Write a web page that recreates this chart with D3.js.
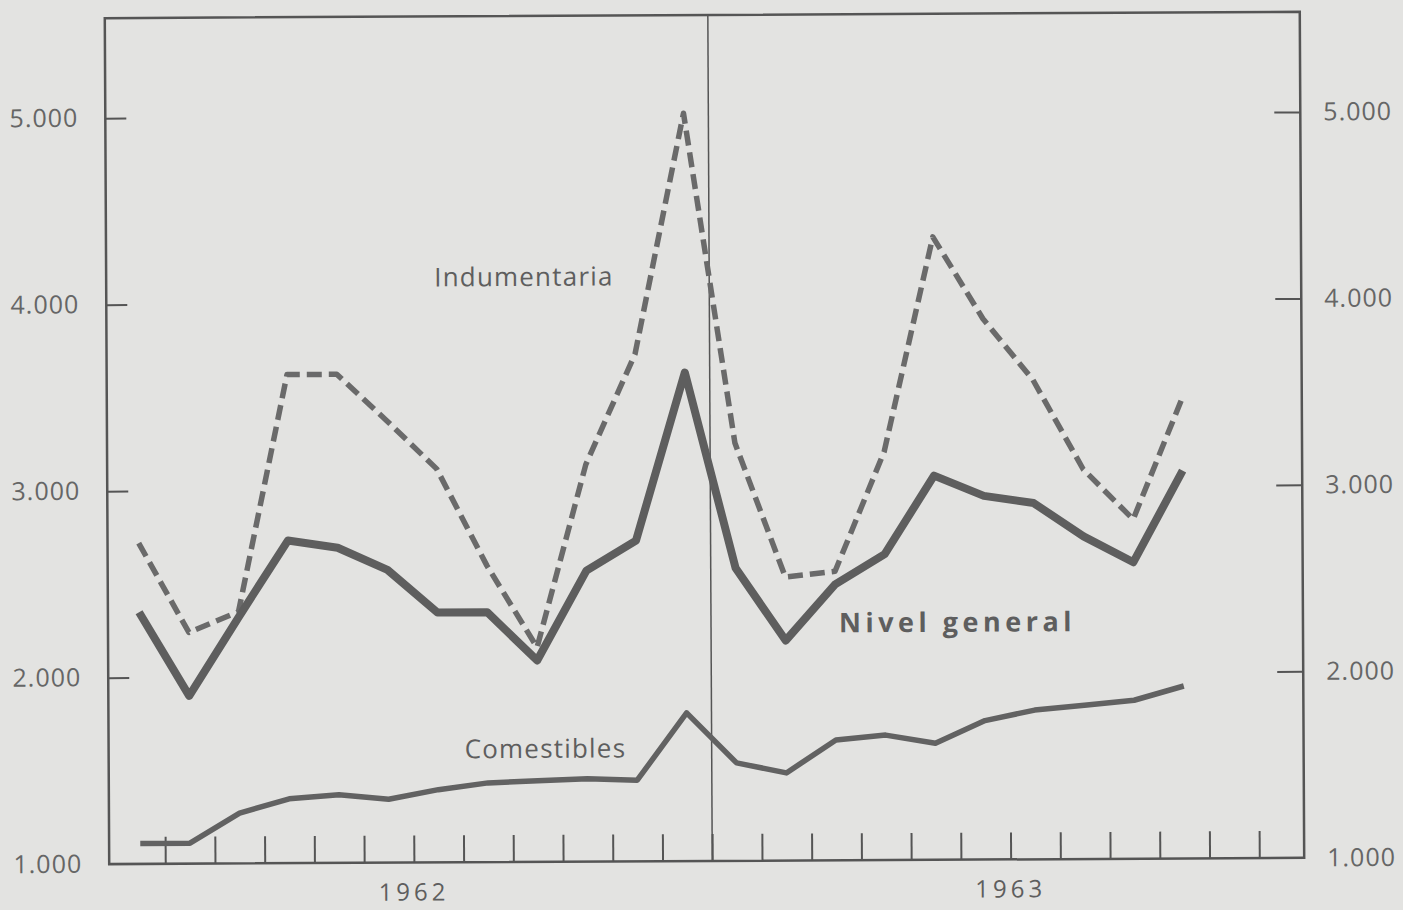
<!DOCTYPE html>
<html>
<head>
<meta charset="utf-8">
<script src="https://cdn.jsdelivr.net/npm/d3@7"></script>
<style>
  body { margin: 0; background: #e3e3e1; }
  svg { display: block; }
  text { font-family: "Open Sans", "DejaVu Sans", sans-serif; fill: #5e5e5e; }
</style>
</head>
<body>
<svg id="chart" width="1403" height="910"></svg>
<script>
// meses enero 1962 .. octubre 1963
var periodos = ["1962-01","1962-02","1962-03","1962-04","1962-05","1962-06","1962-07","1962-08","1962-09","1962-10","1962-11","1962-12",
                "1963-01","1963-02","1963-03","1963-04","1963-05","1963-06","1963-07","1963-08","1963-09","1963-10"];
var nivelGeneral = [2350,1900,2320,2730,2690,2570,2340,2340,2080,2560,2720,3620,2570,2180,2480,2640,3060,2950,2910,2730,2590,3080];
var indumentaria = [2720,2240,2350,3620,3620,3370,3110,2590,2150,3130,3720,5010,3240,2520,2550,3190,4340,3900,3570,3090,2820,3470];
var comestibles  = [1110,1110,1270,1345,1365,1340,1390,1425,1435,1445,1435,1795,1525,1470,1645,1670,1625,1745,1800,1825,1850,1925];
var yTicks = [1000,2000,3000,4000,5000];
var years = ["1962","1963"];

var frameL = 107, frameR = 1302, frameT = 15, frameB = 861;

var x = d3.scaleLinear().domain([0,24]).range([113.3, 1306.8]);
var y = d3.scaleLinear().domain([1000,5000]).range([frameB, 115]);

var fmt = d3.formatLocale({decimal: ",", thousands: ".", grouping: [3], currency: ["$",""]}).format(",");

var svg = d3.select("#chart");
// the scan is slightly tilted
var g = svg.append("g").attr("transform", "rotate(-0.3,705,440)");

// frame
g.append("rect")
  .attr("x", frameL).attr("y", frameT)
  .attr("width", frameR - frameL).attr("height", frameB - frameT)
  .style("fill", "none")
  .style("stroke", "#555")
  .style("stroke-width", 2.5);

// year divider
g.append("line")
  .attr("x1", x(12)).attr("x2", x(12))
  .attr("y1", frameT).attr("y2", frameB)
  .style("stroke", "#555")
  .style("stroke-width", 1.5);

// month ticks
var xAxis = d3.axisBottom(x).tickValues(d3.range(1,24)).tickSize(-27).tickFormat("");
var gx = g.append("g").attr("transform", "translate(0," + frameB + ")").call(xAxis);
gx.select(".domain").remove();
gx.selectAll(".tick line").style("stroke", "#555").style("stroke-width", 2);

// left axis
var gl = g.append("g").attr("transform", "translate(" + frameL + ",0)")
  .call(d3.axisLeft(y).tickValues(yTicks).tickSize(-21).tickPadding(27).tickFormat(fmt));
gl.select(".domain").remove();
gl.selectAll(".tick line").style("stroke", "#555").style("stroke-width", 2);
gl.selectAll(".tick").filter(function(d) { return d === 1000; }).select("line").remove();

// right axis
var gr = g.append("g").attr("transform", "translate(" + frameR + ",0)")
  .call(d3.axisRight(y).tickValues(yTicks).tickSize(-26).tickPadding(23).tickFormat(fmt));
gr.select(".domain").remove();
gr.selectAll(".tick line").style("stroke", "#555").style("stroke-width", 2);
gr.selectAll(".tick").filter(function(d) { return d === 1000; }).select("line").remove();

g.selectAll(".tick text")
  .style("font-family", "'Open Sans', sans-serif")
  .style("font-size", "25px")
  .style("letter-spacing", "1px")
  .style("fill", "#666");

var line = d3.line()
  .x(function(d, i) { return x(i + 0.5); })
  .y(function(d) { return y(d); });

g.append("path")
  .datum(comestibles)
  .attr("d", line)
  .style("fill", "none")
  .style("stroke", "#626262")
  .style("stroke-width", 5.5)
  .style("stroke-linejoin", "round");

g.append("path")
  .datum(indumentaria)
  .attr("d", line)
  .style("fill", "none")
  .style("stroke", "#6a6a6a")
  .style("stroke-width", 5.5)
  .style("stroke-dasharray", "15,7")
  .style("stroke-linejoin", "round");

g.append("path")
  .datum(nivelGeneral)
  .attr("d", line)
  .style("fill", "none")
  .style("stroke", "#5e5e5e")
  .style("stroke-width", 8)
  .style("stroke-linejoin", "round");

// series labels
g.append("text")
  .text("Indumentaria")
  .attr("x", 435).attr("y", 285)
  .style("font-size", "26px")
  .style("letter-spacing", "1.2px");

g.append("text")
  .text("Comestibles")
  .attr("x", 463).attr("y", 757)
  .style("font-size", "26px")
  .style("letter-spacing", "1.2px");

g.append("text")
  .text("Nivel general")
  .attr("x", 838).attr("y", 633)
  .style("font-size", "27px")
  .style("font-weight", "bold")
  .style("letter-spacing", "4.5px");

// years
g.selectAll(".year")
  .data(years)
  .enter()
  .append("text")
  .attr("class", "year")
  .text(function(d) { return d; })
  .attr("x", function(d, i) { return x(6 + 12 * i); })
  .attr("y", 899)
  .style("text-anchor", "middle")
  .style("font-size", "24px")
  .style("letter-spacing", "4px");
</script>
</body>
</html>
